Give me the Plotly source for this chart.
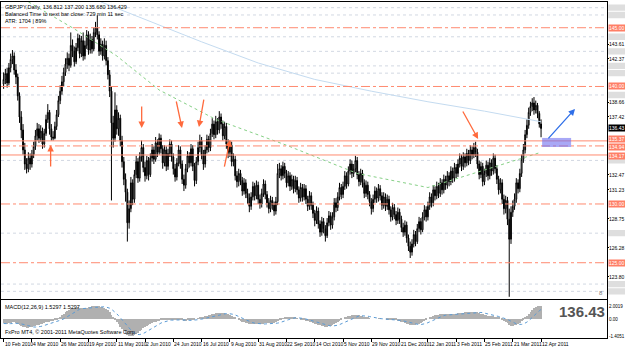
import plotly.graph_objects as go
import pandas as pd

# ---------------- data ----------------
dates = pd.bdate_range("2010-02-10", periods=305)

open_first = 140.2
close = [
140.6,141.1,140.3,141.6,142.3,142.6,141.4,140.8,139.2,137.4,136.3,134.6,133.4,133.0,133.9,133.4,
134.2,134.9,135.8,136.4,135.6,136.2,135.1,136.0,137.2,137.8,136.4,135.7,135.6,136.6,137.6,138.8,
139.6,140.4,141.2,141.9,142.4,141.8,143.5,143.0,142.1,143.3,144.1,142.8,143.9,142.6,143.5,144.4,
143.1,144.0,143.2,144.6,145.0,144.4,143.0,143.6,142.6,143.5,142.2,141.0,139.6,136.9,135.6,138.0,
136.4,137.3,135.4,133.6,132.1,131.0,128.4,129.6,131.8,130.4,132.5,133.6,132.2,134.0,134.8,133.1,
132.4,133.7,132.5,133.9,134.6,133.8,135.2,134.4,135.6,134.7,133.5,134.6,133.2,134.3,135.1,134.0,
133.0,132.3,133.5,134.6,133.4,132.1,131.6,133.0,134.1,133.5,134.7,133.2,132.0,133.6,134.8,135.4,
134.2,133.4,134.6,135.5,134.8,136.0,136.8,135.9,137.0,136.3,137.4,136.8,135.8,136.6,135.1,134.4,
135.0,133.6,133.8,132.4,131.9,132.6,132.0,131.1,131.8,130.9,130.5,129.8,130.6,131.5,130.7,131.6,
130.4,130.0,130.9,131.7,130.8,130.1,129.6,130.3,129.9,129.4,130.2,132.6,133.0,132.4,133.2,132.6,
131.8,132.4,131.5,132.1,131.3,132.0,131.2,130.5,131.4,130.6,131.3,130.4,129.8,130.7,129.9,129.2,
128.6,129.4,128.3,127.6,128.5,127.9,127.3,128.4,129.0,128.2,128.9,130.1,129.7,130.6,131.4,130.8,
131.5,132.4,131.7,132.8,133.4,132.6,133.0,133.7,132.5,131.9,132.6,131.8,130.9,131.6,130.8,130.2,
129.6,130.4,131.1,130.5,131.3,130.7,129.9,130.6,129.8,130.4,129.5,128.9,129.7,129.1,128.6,129.3,
128.7,128.0,127.6,128.2,127.1,126.4,125.9,126.6,127.4,126.8,127.9,128.5,127.8,128.9,129.5,128.9,
129.8,130.6,130.1,131.2,130.7,131.5,130.9,131.8,131.2,132.1,131.6,132.4,131.9,132.8,132.2,133.1,
132.6,133.4,133.9,133.2,134.0,133.5,134.3,133.7,134.6,134.2,134.8,134.4,133.4,132.5,133.2,131.9,
132.6,133.3,132.4,133.5,132.8,133.9,133.0,132.1,131.2,131.8,130.4,129.6,130.3,128.7,127.0,129.3,
129.8,130.4,131.8,131.3,132.6,133.8,134.6,135.9,136.7,137.8,138.3,138.6,138.0,138.4,137.7,136.812,136.429]

high = [
141.2,141.5,141.6,142.0,142.8,143.1,142.9,141.9,141.1,139.5,137.9,136.8,135.2,133.9,134.4,134.3,
134.6,135.3,136.3,136.9,136.8,136.7,136.5,136.4,137.6,138.5,138.0,136.8,136.2,137.0,138.0,139.2,
140.1,140.9,141.6,142.4,142.9,142.8,144.6,144.0,143.4,143.7,144.5,144.4,144.3,144.6,143.9,144.8,
144.7,144.5,144.3,145.0,145.5,146.05,144.7,144.1,143.9,144.1,143.9,142.5,141.4,140.0,137.5,139.5,
138.4,137.8,137.6,135.8,134.0,132.6,131.3,130.3,132.3,132.1,132.9,134.1,133.9,134.4,135.4,135.1,
133.6,134.1,134.0,134.3,135.1,134.9,135.7,135.5,136.0,135.9,135.0,135.0,134.9,134.7,135.5,135.4,
134.3,133.4,133.9,135.0,134.9,133.7,132.5,133.4,134.5,134.4,135.1,135.0,133.5,134.0,135.3,135.9,
135.7,134.6,135.0,135.9,135.8,136.4,137.3,137.1,137.5,137.3,137.9,137.7,137.1,137.0,136.9,135.5,
135.4,135.3,134.3,134.1,132.8,133.0,132.9,132.3,132.2,132.1,131.3,130.9,131.0,131.9,131.8,132.0,
131.9,130.8,131.3,132.1,132.0,131.1,130.5,130.7,130.6,130.2,130.6,133.4,133.5,133.3,133.6,133.5,
132.9,132.8,132.7,132.5,132.4,132.4,132.3,131.5,131.8,131.7,131.7,131.6,130.7,131.1,131.0,130.2,
129.5,129.8,129.7,128.6,128.9,128.8,128.2,128.8,129.4,129.3,129.3,130.5,130.5,131.0,131.8,131.7,
131.9,132.8,132.7,133.2,133.8,133.7,133.4,134.1,134.0,132.8,133.0,132.9,132.1,132.0,131.9,131.1,
130.5,130.8,131.5,131.4,131.7,131.6,131.0,131.0,130.9,130.8,130.7,129.8,130.1,130.0,129.4,129.7,
129.6,129.0,128.4,128.6,128.5,127.4,126.8,127.0,127.8,127.7,128.3,128.9,128.8,129.3,129.9,129.8,
130.2,131.0,130.9,131.6,131.5,131.9,131.8,132.2,132.1,132.5,132.4,132.8,132.7,133.2,133.1,133.5,
133.4,133.8,134.3,134.2,134.4,134.3,134.7,134.6,135.0,134.9,135.2,135.3,134.7,133.7,133.6,133.5,
133.0,133.7,133.6,133.9,133.8,134.3,134.2,133.3,132.4,132.2,132.1,130.8,130.7,130.6,129.6,129.8,
130.3,130.9,132.2,132.1,133.0,134.2,135.1,136.3,137.2,138.2,138.7,139.0,139.1,138.8,138.6,137.9,137.2]

low = [
139.8,140.2,139.9,140.1,141.2,141.9,141.0,140.2,138.8,136.9,135.6,134.2,132.9,132.6,132.7,132.9,
133.1,133.9,134.6,135.4,135.2,135.3,134.7,134.8,135.8,136.9,135.9,135.4,135.4,135.5,136.3,137.4,
138.5,139.3,140.0,140.9,141.5,141.3,141.6,142.5,141.7,141.9,143.0,142.4,142.5,142.2,142.3,143.2,
142.7,142.8,142.8,143.0,144.2,144.0,142.6,142.7,142.2,142.3,141.8,140.6,139.1,130.3,134.8,135.3,
135.9,135.8,134.9,133.1,131.6,130.2,126.8,127.9,129.3,129.9,130.1,132.2,131.8,131.9,133.6,132.7,
131.9,132.1,132.0,132.3,133.6,133.4,133.6,134.0,134.2,134.3,133.0,133.2,132.8,132.9,134.0,133.6,
132.5,131.9,132.0,133.2,133.0,131.7,131.1,131.3,132.7,133.1,133.2,132.8,131.5,131.7,133.3,134.4,
133.8,132.9,133.1,134.3,134.4,134.5,135.7,135.5,135.6,135.9,136.0,136.4,135.4,135.5,134.7,133.9,
134.0,133.2,133.2,132.0,131.4,131.5,131.6,130.7,130.8,130.5,130.0,129.3,129.5,130.3,130.3,130.4,
130.0,129.6,129.7,130.6,130.4,129.7,129.2,129.3,129.5,129.0,129.1,129.9,132.2,132.0,132.1,132.2,
131.4,131.5,131.1,131.2,130.9,131.0,130.8,130.1,130.2,130.2,130.3,130.0,129.4,129.5,129.5,128.8,
128.1,128.3,127.9,127.2,127.3,127.5,126.8,127.1,128.1,127.8,127.9,128.6,129.3,129.4,130.3,130.4,
130.5,131.2,131.3,131.5,132.5,132.2,132.3,132.7,132.1,131.5,131.6,131.4,130.5,130.6,130.4,129.8,
129.1,129.3,130.1,130.1,130.2,130.3,129.5,129.6,129.4,129.5,129.1,128.5,128.6,128.7,128.2,128.3,
128.3,127.6,127.2,127.3,126.7,126.0,125.4,125.6,126.3,126.4,126.6,127.6,127.4,127.6,128.6,128.5,
128.6,129.5,129.7,129.8,130.3,130.4,130.5,130.6,130.8,130.9,131.2,131.3,131.5,131.6,131.8,131.9,
132.2,132.3,133.1,132.8,132.9,133.1,133.2,133.3,133.4,133.8,133.9,134.0,133.0,132.1,132.2,131.5,
131.6,132.3,132.0,132.1,132.4,132.5,132.6,131.7,130.8,130.9,130.0,129.1,129.2,128.2,122.1,126.6,
128.9,129.5,130.1,130.9,131.0,132.3,133.5,134.3,135.6,136.4,137.5,137.9,137.6,137.7,137.3,136.5,135.68]

macd = [
-0.45,-0.5,-0.5,-0.45,-0.4,-0.35,-0.35,-0.4,-0.5,-0.6,-0.7,-0.8,-0.85,-0.9,-0.9,-0.85,
-0.8,-0.75,-0.7,-0.65,-0.6,-0.55,-0.5,-0.42,-0.35,-0.3,-0.28,-0.25,-0.2,-0.15,-0.05,0.05,
0.2,0.35,0.5,0.65,0.8,0.9,1.0,1.05,1.05,1.1,1.15,1.1,1.1,1.05,1.05,1.1,
1.15,1.2,1.25,1.3,1.3,1.3,1.25,1.2,1.15,1.05,0.95,0.85,0.7,0.4,0.1,-0.1,
-0.35,-0.55,-0.8,-1.0,-1.2,-1.4,-1.6,-1.7,-1.75,-1.7,-1.65,-1.55,-1.4,-1.25,-1.1,-0.95,
-0.85,-0.75,-0.65,-0.55,-0.45,-0.35,-0.3,-0.25,-0.2,-0.15,-0.1,-0.1,-0.05,-0.05,-0.05,-0.05,
-0.1,-0.15,-0.15,-0.1,-0.1,-0.15,-0.2,-0.2,-0.15,-0.1,-0.05,-0.05,-0.05,0.0,0.05,0.1,
0.15,0.2,0.25,0.3,0.35,0.4,0.45,0.5,0.55,0.6,0.6,0.6,0.6,0.55,0.5,0.45,
0.4,0.3,0.2,0.1,0.0,-0.1,-0.2,-0.3,-0.35,-0.4,-0.45,-0.5,-0.5,-0.5,-0.5,-0.5,
-0.5,-0.5,-0.5,-0.5,-0.45,-0.45,-0.45,-0.45,-0.4,-0.4,-0.35,-0.25,-0.15,-0.05,0.05,0.1,
0.15,0.2,0.2,0.2,0.15,0.1,0.05,0.0,-0.05,-0.1,-0.15,-0.2,-0.25,-0.3,-0.35,-0.4,
-0.5,-0.55,-0.6,-0.65,-0.7,-0.75,-0.8,-0.8,-0.75,-0.7,-0.6,-0.5,-0.4,-0.3,-0.2,-0.1,
0.0,0.1,0.2,0.25,0.3,0.35,0.4,0.4,0.4,0.35,0.3,0.25,0.2,0.15,0.1,0.05,
0.0,0.0,0.0,0.0,0.05,0.05,0.0,0.0,0.0,-0.05,-0.05,-0.1,-0.1,-0.15,-0.15,-0.2,
-0.25,-0.3,-0.35,-0.45,-0.5,-0.55,-0.6,-0.65,-0.65,-0.6,-0.55,-0.5,-0.4,-0.3,-0.2,-0.1,
0.0,0.1,0.2,0.3,0.35,0.4,0.4,0.45,0.45,0.45,0.45,0.45,0.45,0.5,0.5,0.5,
0.5,0.55,0.55,0.6,0.6,0.65,0.65,0.7,0.7,0.7,0.7,0.7,0.65,0.6,0.5,0.45,
0.4,0.35,0.3,0.3,0.25,0.25,0.2,0.15,0.1,0.0,-0.1,-0.2,-0.3,-0.45,-0.6,-0.7,
-0.7,-0.65,-0.6,-0.5,-0.4,-0.25,-0.1,0.1,0.3,0.5,0.7,0.9,1.05,1.2,1.3,1.35,1.3]

# moving-average lines (bar index, price)
ma_slow_idx = [55, 80, 112, 144, 176, 208, 240, 272, 304]
ma_slow_val = [147.2, 145.7, 143.8, 142.0, 140.6, 139.6, 138.7, 137.9, 137.0]
ma_fast_idx = [14, 40, 64, 88, 120, 160, 200, 240, 270, 304]
ma_fast_val = [147.2, 144.9, 142.6, 139.7, 137.2, 135.0, 132.6, 131.4, 132.8, 134.4]

# horizontal levels
solid_levels = [135.37, 134.17]
dashdot_levels = [145.0, 140.0, 134.94, 130.0, 125.0]
grey_levels = [146.705, 146.086, 144.229, 142.991, 141.753, 141.134, 139.277, 133.706,
               127.516, 123.183, 122.564]
label_nudge = {135.37: 2, 134.94: -1, 134.17: -1}

# right-axis tick labels
tick_vals = [123.802, 126.278, 128.754, 131.23, 132.468, 137.42, 138.658, 142.372, 143.61]
macd_ticks = [(1.3, "2.0019"), (0.0, "0.00"), (-1.75, "-1.4051")]

label_every = 16
date_fmt = "%-d %b %Y"

# ---------------- figure ----------------
n = len(close)
xi = list(range(n))
opens = [open_first] + close[:-1]
FONT = "Liberation Sans"

fig = go.Figure()

fig.add_trace(go.Candlestick(
    x=xi, open=opens, high=high, low=low, close=close,
    increasing=dict(line=dict(color="black", width=1), fillcolor="white"),
    decreasing=dict(line=dict(color="black", width=1), fillcolor="black"),
    whiskerwidth=0, showlegend=False, hoverinfo="skip", xaxis="x", yaxis="y"))

fig.add_trace(go.Scatter(x=ma_slow_idx, y=ma_slow_val, mode="lines",
                         line=dict(color="#c4dbf0", width=1), showlegend=False,
                         xaxis="x", yaxis="y", hoverinfo="skip"))
fig.add_trace(go.Scatter(x=ma_fast_idx, y=ma_fast_val, mode="lines",
                         line=dict(color="#86d086", width=1, dash="dot"), showlegend=False,
                         xaxis="x", yaxis="y", hoverinfo="skip"))

# MACD
signal = pd.Series(macd).rolling(9, min_periods=1).mean().tolist()
fig.add_trace(go.Bar(x=xi, y=macd, marker=dict(color="#b0b0b0", line=dict(width=0)),
                     width=0.45, showlegend=False, xaxis="x2", yaxis="y2", hoverinfo="skip"))
fig.add_trace(go.Scatter(x=xi, y=signal, mode="lines",
                         line=dict(color="#5b9bd5", width=1, dash="dot"),
                         showlegend=False, xaxis="x2", yaxis="y2", hoverinfo="skip"))

xr = [-1.47, 341.3]
shapes = []
for lv in grey_levels:
    shapes.append(dict(type="line", xref="paper", x0=0, x1=1, yref="y", y0=lv, y1=lv,
                       line=dict(color="#d2d8e2", width=1, dash="dot"), layer="below"))
    # grey price-label box on the right scale
    shapes.append(dict(type="rect", xref="paper", x0=1.002, x1=1.06, yref="y",
                       y0=lv - 0.27, y1=lv + 0.27, fillcolor="#dedede", line=dict(width=0)))
for lv in solid_levels:
    shapes.append(dict(type="line", xref="paper", x0=0, x1=1, yref="y", y0=lv, y1=lv,
                       line=dict(color="#ff8a70", width=1)))
for lv in dashdot_levels:
    shapes.append(dict(type="line", xref="paper", x0=0, x1=1, yref="y", y0=lv, y1=lv,
                       line=dict(color="#ff8a70", width=1, dash="dashdot")))
# blue zone
shapes.append(dict(type="rect", xref="x", yref="y", x0=304.6, x1=321.0, y0=134.85, y1=135.62,
                   fillcolor="rgba(110,110,240,0.6)", line=dict(width=0)))

annotations = []
# arrows
arrows = [
    ((26.6, 133.06), (26.6, 135.02), "#ff6a3d"),
    ((78.1, 138.43), (78.1, 136.47), "#ff6a3d"),
    ((97.5, 138.85), (100.9, 136.47), "#ff6a3d"),
    ((113.4, 139.0), (110.5, 136.55), "#ff6a3d"),
    ((124.7, 133.06), (128.1, 135.45), "#ff6a3d"),
    ((259.3, 138.0), (268.4, 135.53), "#ff6a3d"),
    ((307.4, 135.45), (323.2, 138.09), "#2f6fe8"),
]
for (tx, ty), (hx, hy), col in arrows:
    annotations.append(dict(x=hx, y=hy, ax=tx, ay=ty, xref="x", yref="y", axref="x", ayref="y",
                            showarrow=True, arrowhead=2, arrowsize=1, arrowwidth=1.3,
                            arrowcolor=col, text=""))

# right price scale labels (plain ticks + coloured level boxes)
def rlabel(price, text, yref="y", bg=None, fg="black", shift=0, size=5):
    d = dict(x=1, xref="paper", xanchor="left", xshift=1, y=price, yref=yref,
             yanchor="middle", yshift=shift, text=text, showarrow=False,
             borderpad=0, font=dict(size=size, color=fg, family=FONT))
    if bg:
        d["bgcolor"] = bg
    annotations.append(d)

for v in tick_vals:
    rlabel(v, f"{v:.2f}")
for lv in solid_levels + dashdot_levels:
    rlabel(lv, f"{lv:.2f}", bg="#ff7f66", fg="#ffffff", shift=label_nudge.get(lv, 0))
rlabel(136.429, "136.43", bg="#000000", fg="#ffffff")
for val, txt in macd_ticks:
    rlabel(val, txt, yref="y2", size=4.5)

# date labels
for i in range(0, n, label_every):
    annotations.append(dict(x=i, xref="x2", xanchor="left", xshift=-1, y=0, yref="paper",
                            yanchor="top", yshift=-1, text=dates[i].strftime(date_fmt),
                            showarrow=False, font=dict(size=5, color="black", family=FONT)))

# header text
annotations.append(dict(x=0, xref="paper", xanchor="left", xshift=2, y=1, yref="paper",
                        yanchor="top", align="left", showarrow=False,
                        text="GBPJPY,Daily  136.812 137.200 135.680 136.429<br>"
                             "Balanced Time to next bar close: 729 min 11 sec<br>ATR: 1704 | 89%",
                        font=dict(size=5.5, color="black", family=FONT)))
# MACD texts
annotations.append(dict(x=0, xref="paper", xanchor="left", xshift=2, y=0.113, yref="paper",
                        yanchor="top", yshift=-2, text="MACD(12,26,9) 1.5297 1.5297", showarrow=False,
                        font=dict(size=5.5, color="black", family=FONT)))
annotations.append(dict(x=0, xref="paper", xanchor="left", xshift=2, y=0, yref="paper",
                        yanchor="bottom", yshift=1,
                        text="FxPro MT4, \u00a9 2001-2011 MetaQuotes Software Corp.",
                        showarrow=False, font=dict(size=5.5, color="black", family=FONT)))
annotations.append(dict(x=1, xref="paper", xanchor="right", y=0.113, yref="paper", yanchor="top",
                        yshift=-1, text="<b>136.43</b>", showarrow=False,
                        font=dict(size=15, color="#555555", family=FONT)))
annotations.append(dict(x=0.99, xref="paper", xanchor="center", y=0.135, yref="paper",
                        yanchor="middle", text="8", showarrow=False,
                        font=dict(size=6, color="#777777", family=FONT)))

fig.update_layout(
    width=625, height=347, margin=dict(l=1, r=18, t=2, b=9, autoexpand=False),
    paper_bgcolor="white", plot_bgcolor="white",
    xaxis=dict(domain=[0, 1], range=xr, anchor="y", showticklabels=False, showgrid=False,
               zeroline=False, showline=True, linecolor="black", linewidth=1, mirror=True,
               rangeslider=dict(visible=False), fixedrange=True, automargin=False),
    yaxis=dict(domain=[0.116, 1], range=[121.91, 147.19], side="right", tickvals=tick_vals,
               showticklabels=False, ticks="outside", ticklen=1, tickcolor="black",
               showgrid=False, zeroline=False, showline=True, linecolor="black", linewidth=1,
               mirror=True, automargin=False),
    xaxis2=dict(domain=[0, 1], range=xr, anchor="y2", tickvals=list(range(0, n, label_every)),
                ticktext=[""] * len(range(0, n, label_every)), ticks="outside", ticklen=3,
                tickcolor="black", showgrid=False, zeroline=False, showline=True,
                linecolor="black", linewidth=1, mirror=True, automargin=False),
    yaxis2=dict(domain=[0, 0.113], range=[-1.9, 1.9], side="right", showticklabels=False,
                ticks="", showgrid=False, zeroline=False, showline=True, linecolor="black",
                linewidth=1, mirror=True, automargin=False),
    shapes=shapes, annotations=annotations, bargap=0,
)

fig.write_html("out.html")
